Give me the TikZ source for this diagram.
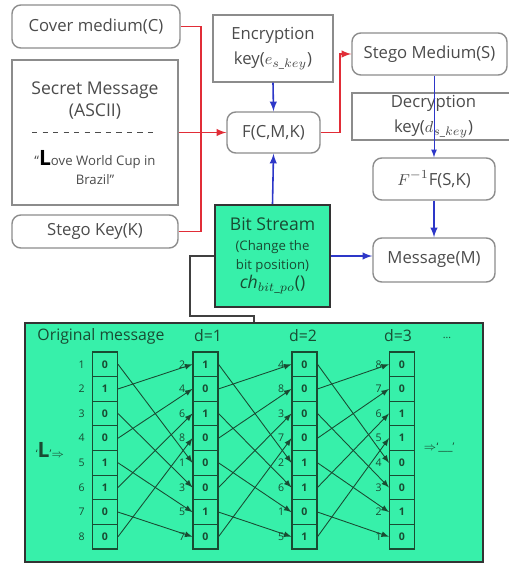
\documentclass[tikz,border=0pt]{standalone}
\usepackage{fontspec}
\setmainfont{Open Sans}
\usepackage{amsmath}
\usepackage{tikz}
\usetikzlibrary{arrows,positioning,calc}
\definecolor{vertmenthe}{RGB}{55,240,170}
\definecolor{vertfonce}{RGB}{25,75,50}
\definecolor{grisbord}{RGB}{140,140,140}
\definecolor{gristexte}{RGB}{75,75,75}
\definecolor{rougelien}{RGB}{225,45,55}
\definecolor{bleulien}{RGB}{45,55,200}

\begin{document}
\begin{tikzpicture}[x=0.02cm,y=-0.02cm]
\tikzstyle{boite}=[draw=grisbord,line width=0.8pt,text=gristexte,align=center,inner sep=0pt,font=\fontsize{9.5}{14}\selectfont]
\tikzstyle{boiteronde}=[boite,rounded corners=5pt]
\tikzstyle{texte}=[text=gristexte,inner sep=0pt]
\tikzstyle{lienR}=[rougelien,line width=0.9pt]
\tikzstyle{flecheR}=[lienR,->,>=latex]
\tikzstyle{flecheB}=[bleulien,line width=0.9pt,->,>=latex]
\tikzstyle{fleche}=[vertfonce,line width=0.5pt,->,>=latex]
\tikzstyle{case}=[draw=vertfonce,line width=0.6pt,inner sep=0pt,text=vertfonce,font=\fontsize{6}{6}\selectfont\bfseries]
\tikzstyle{numero}=[inner sep=0pt,text=vertfonce,font=\fontsize{6}{6}\selectfont]
\def\Pixel{0.02cm}
\def\HautCase{24.625}
\def\HautGrille{352}
\useasboundingbox (0,0) rectangle (509,564);
% partie haute
\node[boiteronde,minimum width=168*\Pixel,minimum height=43*\Pixel] (couv) at (96,26.5) {Cover medium(C)};
\node[boite,minimum width=166*\Pixel,minimum height=145*\Pixel] (secret) at (95,132.5) {};
\node[texte,font=\fontsize{10}{12}\selectfont] (secretA) at (95,90) {Secret Message};
\node[texte,font=\fontsize{10}{12}\selectfont] (secretB) at (95,112) {(ASCII)};
\node[texte,font=\fontsize{7.5}{9}\selectfont] (secretC) at (95,160) {“{\fontsize{12}{12}\selectfont\bfseries\color{black}L}ove World Cup in};
\node[texte,font=\fontsize{7.5}{9}\selectfont] (secretD) at (95,180) {Brazil”};
\draw[gristexte,dashed] (32,132) -- (158,132);
\node[boiteronde,minimum width=166*\Pixel,minimum height=33*\Pixel] (cle) at (95,231.5) {Stego Key(K)};
\node[boite,minimum width=120*\Pixel,minimum height=67*\Pixel] (chiffre) at (273,48.5) {Encryption\\key($e_{s\_key}$)};
\node[boiteronde,minimum width=93*\Pixel,minimum height=41*\Pixel] (f) at (273.5,132.5) {F(C,M,K)};
\node[boite,draw=black!80,line width=1.2pt,fill=vertmenthe,text=vertfonce,minimum width=115*\Pixel,minimum height=102*\Pixel,font=\fontsize{10}{11}\selectfont] (bit) at (272.5,256) {Bit Stream\\{\fontsize{7.5}{9}\selectfont(Change the}\\{\fontsize{7.5}{9}\selectfont bit position)}\\\textit{ch}$_{bit\_po}$()};
\node[boiteronde,minimum width=155*\Pixel,minimum height=42*\Pixel] (stego) at (429.5,54) {Stego Medium(S)};
\node[boite,minimum width=163*\Pixel,minimum height=47*\Pixel] (dechiffre) at (433.5,116.5) {Decryption\\key($d_{s\_key}$)};
\node[boiteronde,minimum width=122*\Pixel,minimum height=42*\Pixel] (finv) at (434,179) {$F^{-1}$F(S,K)};
\node[boiteronde,minimum width=122*\Pixel,minimum height=44*\Pixel] (message) at (434,260) {Message(M)};
\coordinate (jonction) at (201,132.5);
\coordinate (coudeS) at (340,54);
\coordinate (coudeN) at (190,316);
\draw[lienR] (couv.east) -| (jonction);
\draw[lienR] (cle.east) -| (jonction);
\draw[flecheR] (secret.east) -- (f.west);
\draw[flecheR] (f.east) -| (coudeS) -- (stego.west);
\draw[flecheB] (chiffre.south) -- (f.north);
\draw[flecheB] (bit.north) -- (f.south);
\draw[flecheB,line width=0.5pt] (finv.north |- stego.south) -- (finv.north);
\draw[flecheB] (finv.south) -- (message.north);
\draw[flecheB] (bit.east) -- (bit.east -| message.west);
% partie basse
\node[draw=black!80,line width=1.2pt,fill=vertmenthe,minimum width=458*\Pixel,minimum height=239*\Pixel] (grand) at (254,442.5) {};
\draw[black!75,line width=1.2pt] (bit.west) -| (coudeN) -| (grand.north);
\node[numero,font=\fontsize{9}{9}\selectfont] (titreA) at (101,336) {Original message};
\node[numero,font=\fontsize{9}{9}\selectfont] (titreB) at (208,336) {d=1};
\node[numero,font=\fontsize{9}{9}\selectfont] (titreC) at (303,336) {d=2};
\node[numero,font=\fontsize{9}{9}\selectfont] (titreD) at (398,336) {d=3};
\node[numero,font=\fontsize{6}{6}\selectfont] (titreE) at (447,338) {\ldots};
\foreach \col/\abs/\liste in {A/105/{0/1,1/2,0/3,0/4,1/5,1/6,0/7,0/8},B/205.5/{1/2,0/4,1/6,0/8,0/1,0/3,1/5,0/7},C/304.5/{0/4,0/8,0/3,0/7,1/2,1/6,0/1,1/5},D/402/{0/8,0/7,1/6,1/5,0/4,0/3,1/2,0/1}}
{
  \foreach \b/\n [count=\i] in \liste
  {
    \node[case,minimum width=25*\Pixel,minimum height=\HautCase*\Pixel] (c\col\i) at (\abs,{\HautGrille+(\i-0.5)*\HautCase}) {\b};
    \node[numero,left=0.14cm of c\col\i] (n\col\i) {\n};
  }
}
\foreach \de/\vers in {A/B,B/C,C/D}
  \foreach \i/\j in {1/5,2/1,3/6,4/2,5/7,6/3,7/8,8/4}
    \draw[fleche] (c\de\i.east) -- (c\vers\j.west);
\node[numero] (lettre) at (50,450) {‘{\fontsize{12}{12}\selectfont\bfseries L}’$\Rightarrow$};
\node[numero] (resultat) at (439,448) {$\Rightarrow$‘\_\_\_’};
\end{tikzpicture}
\end{document}
